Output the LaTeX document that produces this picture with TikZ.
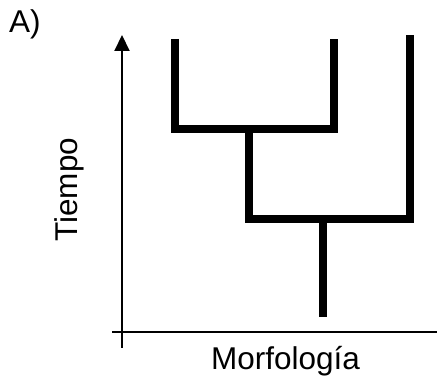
\documentclass[tikz,border=0pt]{standalone}
\usepackage{fontspec}
\setmainfont{Liberation Sans}
\usetikzlibrary{arrows.meta}
\begin{document}
\begin{tikzpicture}[x=1pt,y=1pt,
  axis/.style={line width=2pt},
  branch/.style={line width=8pt, line join=miter, line cap=butt},
  lbl/.style={inner sep=0pt, font=\fontsize{31.5}{36}\selectfont}]
\useasboundingbox (0,0) rectangle (437,379);
% axes
\coordinate (ybot) at (122,31);
\coordinate (ytop) at (122,344);
\coordinate (xl) at (112,47);
\coordinate (xr) at (437,47);
\draw[axis,-{Triangle[length=16pt,width=15pt]}] (ybot) -- (ytop);
\draw[axis] (xl) -- (xr);
% tree
\coordinate (l1) at (174.5,340);
\coordinate (l2) at (334,340);
\coordinate (l3) at (409.5,344);
\coordinate (n1) at (249,250);
\coordinate (n2) at (323,160);
\coordinate (root) at (323,62);
\draw[branch] (l1) |- (n1) -| (l2);
\draw[branch] (n1) |- (n2) -| (l3);
\draw[branch] (n2) -- (root);
% labels
\node[lbl, anchor=base west] (A) at (9,346) {A)};
\node[lbl, anchor=base west, rotate=90] (T) at (77,137) {Tiempo};
\node[lbl, anchor=base west] (M) at (211,9) {Morfología};
\end{tikzpicture}
\end{document}
